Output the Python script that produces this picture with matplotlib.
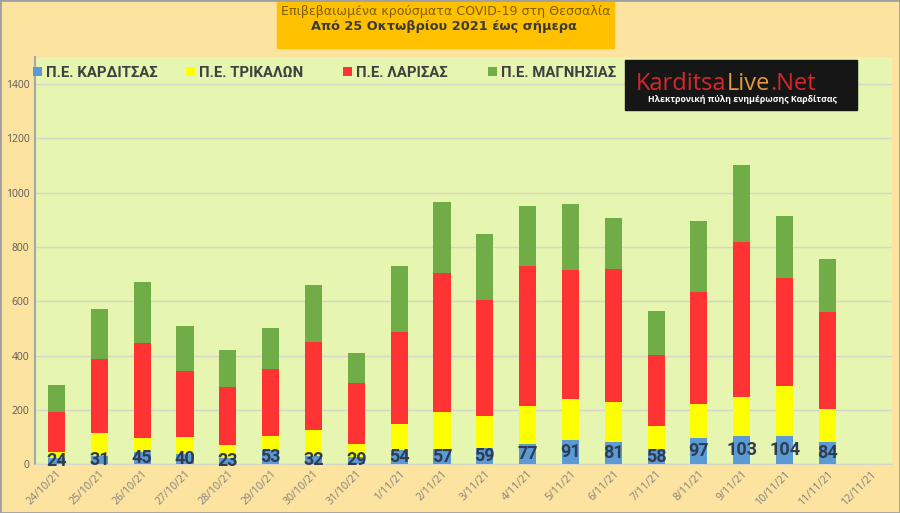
import matplotlib
matplotlib.use("Agg")
import matplotlib.pyplot as plt
import matplotlib.patches as mpatches
import numpy as np

dates = ["24/10/21", "25/10/21", "26/10/21", "27/10/21", "28/10/21", "29/10/21",
         "30/10/21", "31/10/21", "1/11/21", "2/11/21", "3/11/21", "4/11/21",
         "5/11/21", "6/11/21", "7/11/21", "8/11/21", "9/11/21", "10/11/21",
         "11/11/21", "12/11/21"]
karditsa = [24, 31, 45, 40, 23, 53, 32, 29, 54, 57, 59, 77, 91, 81, 58, 97, 103, 104, 84, 0]
trikala = [23, 86, 53, 62, 47, 53, 95, 45, 95, 135, 120, 138, 149, 149, 83, 125, 144, 186, 120, 0]
larisa = [146, 271, 350, 243, 216, 246, 325, 227, 338, 511, 427, 516, 474, 488, 261, 413, 571, 398, 357, 0]
magnisia = [99, 184, 222, 163, 136, 149, 207, 108, 243, 264, 241, 221, 243, 189, 161, 262, 284, 226, 197, 0]

names = ["Π.Ε. ΚΑΡΔΙΤΣΑΣ", "Π.Ε. ΤΡΙΚΑΛΩΝ", "Π.Ε. ΛΑΡΙΣΑΣ", "Π.Ε. ΜΑΓΝΗΣΙΑΣ"]
colors = ["#5B9BD5", "#FFFF00", "#FF3333", "#70AD47"]

plt.rcParams['font.family'] = ['Open Sans', 'DejaVu Sans']

fig = plt.figure(figsize=(9, 5.13), dpi=100, facecolor="#FDE3A0")
ax = fig.add_axes([0.039, 0.0947, 0.9517, 0.7943])
ax.set_facecolor("#E6F5B0")

x = np.arange(len(dates))
bottom = np.zeros(len(dates))
series = [karditsa, trikala, larisa, magnisia]
bars = []
for vals, name, c in zip(series, names, colors):
    v = np.array(vals, dtype=float)
    bars.append(ax.bar(x, v, 0.4, bottom=bottom, color=c, label=name, zorder=3))
    bottom += v

for i, v in enumerate(karditsa):
    if v > 0:
        ax.text(i, v / 2, str(v), ha='center', va='center', fontsize=13,
                fontweight='bold', color="#2F3C52", zorder=4,
                family=['Roboto', 'DejaVu Sans'])

ax.set_xlim(-0.5, len(dates) - 0.5)
ax.set_ylim(0, 1500)
ax.set_yticks(range(0, 1401, 200))
ax.tick_params(axis='y', labelsize=7.5, labelcolor="#595959", length=0, pad=4)
ax.set_xticks(x)
ax.set_xticklabels(dates, rotation=45, ha='right', rotation_mode='anchor',
                   fontsize=7.6, color="#7F7F7F")
ax.tick_params(axis='x', length=0, pad=3)
ax.grid(axis='y', color="#D6D6C8", linewidth=1, zorder=1)
for s in ['top', 'right']:
    ax.spines[s].set_visible(False)
ax.spines['left'].set_color("#A6A6A6")
ax.spines['left'].set_linewidth(1.5)
ax.spines['bottom'].set_color("#D6D6C8")

# legend entries spread like the excel one
leg_x = [33, 186, 343, 488]
for b, name, lx in zip(bars, names, leg_x):
    lg = fig.legend([b], [name], loc='center left', bbox_to_anchor=(lx / 900, 1 - 73 / 513),
                    frameon=False, handlelength=0.6, handleheight=0.6, handletextpad=0.3,
                    borderpad=0, borderaxespad=0,
                    prop={'size': 10.7, 'weight': 'bold', 'family': ['Roboto', 'DejaVu Sans']})
    for t in lg.get_texts():
        t.set_color("#404040")

# title box
fig.patches.append(mpatches.Rectangle((277 / 900, 1 - 48 / 513), 337 / 900, 48 / 513,
                                      transform=fig.transFigure, color="#FFC000", zorder=0))
fig.text(446 / 900, 1 - 12 / 513, "Επιβεβαιωμένα κρούσματα COVID-19 στη Θεσσαλία",
         ha='center', va='center', fontsize=9.1, color="#7F6000", family='DejaVu Sans')
fig.text(444 / 900, 1 - 27 / 513, "Από 25 Οκτωβρίου 2021 έως σήμερα",
         ha='center', va='center', fontsize=9.3, fontweight='bold', color="#3A3A3A",
         family='DejaVu Sans')

# logo
fig.patches.append(mpatches.Rectangle((625 / 900, 1 - 110 / 513), 232 / 900, 50 / 513,
                                      transform=fig.transFigure, color="#161616", zorder=5))
renderer = fig.canvas.get_renderer()
xpos = 636
for word, c in [("Karditsa", "#D8262C"), ("Live", "#E49A3A"), (".Net", "#D8262C")]:
    t = fig.text(xpos / 900, 1 - 84 / 513, word, ha='left', va='center', fontsize=17,
                 color=c, family='Open Sans', zorder=6)
    xpos += t.get_window_extent(renderer).width
fig.text(742 / 900, 1 - 100 / 513, "Ηλεκτρονική πύλη ενημέρωσης Καρδίτσας", ha='center',
         va='center', fontsize=6.3, fontweight='bold', color="white", zorder=6)

fig.patches.append(mpatches.Rectangle((0, 0), 1, 1, transform=fig.transFigure, fill=False,
                                      edgecolor="#A0A0A0", linewidth=2, zorder=10))

fig.savefig("out.png", dpi=100, facecolor=fig.get_facecolor())
